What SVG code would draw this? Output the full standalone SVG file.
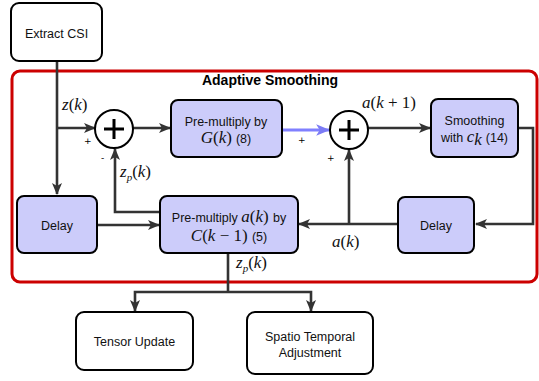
<svg xmlns="http://www.w3.org/2000/svg" width="539" height="381" viewBox="0 0 539 381">
<defs>
<style>
.box{fill:#ffffff;stroke:#000;stroke-width:2}
.blk{fill:#ccccfa;stroke:#000;stroke-width:2}
.t{font-family:"Liberation Sans",Arial,sans-serif;font-size:12.5px;fill:#111;text-anchor:middle}
.m{font-family:"Liberation Serif","DejaVu Serif",serif;font-size:17px;fill:#111}
.mi{font-style:italic}
.sub{font-size:11px}
.s{font-family:"DejaVu Sans",sans-serif;font-size:9px;fill:#000}
.c{fill:none;stroke:#333;stroke-width:2.6}
.sum{fill:#fff;stroke:#000;stroke-width:2}
</style>
<marker id="ah" viewBox="0 0 12 10" refX="11" refY="5" markerWidth="12" markerHeight="10" markerUnits="userSpaceOnUse" orient="auto">
<path d="M0,0 L12,5 L0,10 L3,5 Z" fill="#333"/>
</marker>
<marker id="ahb" viewBox="0 0 12 10" refX="11" refY="5" markerWidth="14" markerHeight="12" markerUnits="userSpaceOnUse" orient="auto">
<path d="M0,0 L12,5 L0,10 L3,5 Z" fill="#7b7bf5"/>
</marker>
</defs>

<rect x="12" y="71" width="525" height="211" rx="8" fill="none" stroke="#cc0000" stroke-width="3"/>
<text x="270" y="85" font-family="Liberation Sans,Arial,sans-serif" font-size="14px" font-weight="bold" text-anchor="middle" fill="#000">Adaptive Smoothing</text>

<g id="connectors">
<path class="c" d="M57,61 V194" marker-end="url(#ah)"/>
<path class="c" d="M57,128 H95" marker-end="url(#ah)"/>
<path class="c" d="M133,128 H170" marker-end="url(#ah)"/>
<path d="M282,130 H329" fill="none" stroke="#8080ff" stroke-width="3" marker-end="url(#ahb)"/>
<path class="c" d="M368,128 H430" marker-end="url(#ah)"/>
<path class="c" d="M518,128 H533 V224 H476" marker-end="url(#ah)"/>
<path class="c" d="M398,224 H299" marker-end="url(#ah)"/>
<path class="c" d="M349,224 V150" marker-end="url(#ah)"/>
<path class="c" d="M97,225 H159" marker-end="url(#ah)"/>
<path class="c" d="M160,212 H115 V149" marker-end="url(#ah)"/>
<path class="c" d="M228,253 V292"/>
<path class="c" d="M228,292 H135 V311" marker-end="url(#ah)"/>
<path class="c" d="M228,292 H311 V311" marker-end="url(#ah)"/>
</g>

<g id="extract">
<rect class="box" x="11" y="3" width="91" height="58" rx="8"/>
<text class="t" x="56.5" y="38">Extract CSI</text>
</g>

<g id="sum1">
<circle class="sum" cx="114" cy="129" r="19"/>
<path d="M104,129 H124 M114,119 V139" stroke="#000" stroke-width="3"/>
</g>

<g id="premultG">
<rect class="blk" x="171" y="100" width="111" height="57" rx="7"/>
<text class="t" x="226" y="126">Pre-multiply by</text>
<text x="226" y="143" text-anchor="middle"><tspan class="m mi">G</tspan><tspan class="m">(</tspan><tspan class="m mi">k</tspan><tspan class="m">)</tspan><tspan class="t" dx="4">(8)</tspan></text>
</g>

<g id="sum2">
<circle class="sum" cx="349" cy="130" r="19"/>
<path d="M339,130 H359 M349,120 V140" stroke="#000" stroke-width="3"/>
</g>

<g id="smoothing">
<rect class="blk" x="431" y="99" width="87" height="58" rx="7"/>
<text class="t" x="474.5" y="125">Smoothing</text>
<text x="474.5" y="142" text-anchor="middle"><tspan class="t">with </tspan><tspan class="m mi">c</tspan><tspan class="m mi" font-size="10px" dy="3">k</tspan><tspan class="t" dy="-3" dx="4">(14)</tspan></text>
</g>

<g id="delayR">
<rect class="blk" x="398" y="197" width="76" height="56" rx="7"/>
<text class="t" x="436" y="230">Delay</text>
</g>

<g id="delayL">
<rect class="blk" x="17" y="196" width="80" height="57" rx="7"/>
<text class="t" x="57" y="230">Delay</text>
</g>

<g id="premultC">
<rect class="blk" x="160" y="196" width="138" height="57" rx="7"/>
<text x="229" y="222" text-anchor="middle"><tspan class="t">Pre-multiply </tspan><tspan class="m mi">a</tspan><tspan class="m">(</tspan><tspan class="m mi">k</tspan><tspan class="m">) </tspan><tspan class="t">by</tspan></text>
<text x="229" y="241" text-anchor="middle"><tspan class="m mi">C</tspan><tspan class="m">(</tspan><tspan class="m mi">k</tspan><tspan class="m"> − 1) </tspan><tspan class="t">(5)</tspan></text>
</g>

<g id="tensor">
<rect class="box" x="76" y="312" width="117" height="58" rx="8"/>
<text class="t" x="134.5" y="346">Tensor Update</text>
</g>

<g id="spatio">
<rect class="box" x="247" y="312" width="126" height="62" rx="8"/>
<text class="t" x="310" y="341">Spatio Temporal</text>
<text class="t" x="310" y="357">Adjustment</text>
</g>

<g id="labels">
<text x="62" y="110"><tspan class="m mi">z</tspan><tspan class="m">(</tspan><tspan class="m mi">k</tspan><tspan class="m">)</tspan></text>
<text class="s" x="84" y="144">+</text>
<text class="s" x="101" y="161">-</text>
<text x="120" y="177"><tspan class="m mi">z</tspan><tspan class="m mi sub" dy="4">p</tspan><tspan class="m" dy="-4">(</tspan><tspan class="m mi">k</tspan><tspan class="m">)</tspan></text>
<text x="362" y="108"><tspan class="m mi">a</tspan><tspan class="m">(</tspan><tspan class="m mi">k</tspan><tspan class="m"> + 1)</tspan></text>
<text class="s" x="298" y="143">+</text>
<text class="s" x="327" y="161">+</text>
<text x="332" y="247"><tspan class="m mi">a</tspan><tspan class="m">(</tspan><tspan class="m mi">k</tspan><tspan class="m">)</tspan></text>
<text x="236" y="268"><tspan class="m mi">z</tspan><tspan class="m mi sub" dy="4">p</tspan><tspan class="m" dy="-4">(</tspan><tspan class="m mi">k</tspan><tspan class="m">)</tspan></text>
</g>
</svg>
